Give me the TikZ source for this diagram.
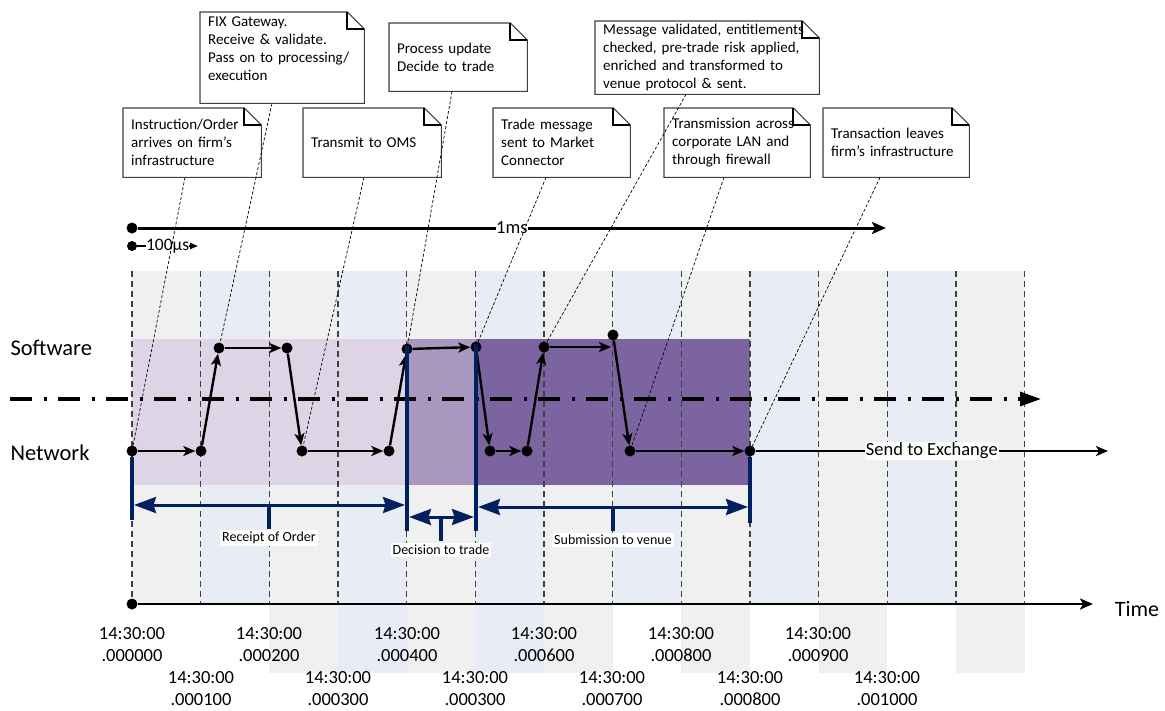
\documentclass[tikz,border=0pt]{standalone}
\usepackage{fontspec}
\setmainfont{Carlito}
\usetikzlibrary{arrows.meta,calc}
\definecolor{stripegray}{HTML}{F0F0F0}
\definecolor{stripeblue}{HTML}{E8ECF4}
\definecolor{purA}{HTML}{DDD5E5}
\definecolor{purB}{HTML}{A898C0}
\definecolor{purC}{HTML}{7C64A0}
\definecolor{navy}{HTML}{002060}
\definecolor{gridc}{HTML}{404040}
\begin{document}
\begin{tikzpicture}[x=1pt,y=-1pt,
  dot/.style={circle,fill=black,inner sep=0pt,minimum size=11pt},
  flow/.style={line width=2.4pt,-{Stealth[length=12pt,width=10pt,inset=3pt]}},
  gridline/.style={gridc,line width=1.2pt,dash pattern=on 6pt off 4pt},
  dashdot/.style={line width=3.2pt,dash pattern=on 22pt off 12pt on 2.5pt off 11.5pt,-{Triangle[length=21pt,width=14pt]}},
  leader/.style={black,line width=0.7pt,dash pattern=on 3pt off 2pt},
  note/.style={fill=white,anchor=north west,inner xsep=8pt,inner ysep=0pt,align=left,font=\fontsize{15}{18}\selectfont,text=black},
  noteline/.style={draw=gridc,line width=1.1pt},
  foldline/.style={draw=black,line width=2pt},
  navybar/.style={navy,line width=4.2pt},
  dim/.style={navy,line width=3pt,{Stealth[length=22pt,width=16pt,inset=2.5pt]}-{Stealth[length=22pt,width=16pt,inset=2.5pt]}},
  dimtick/.style={navy,line width=4pt},
  dimlabel/.style={fill=white,inner sep=2pt,font=\fontsize{14}{16}\selectfont,text=black},
  timelabel/.style={align=center,inner sep=0.5pt,font=\fontsize{18.5}{22}\selectfont,text=black},
  lanelabel/.style={anchor=west,font=\fontsize{22.5}{26}\selectfont,text=black},
  bigline/.style={line width=3pt,-{Stealth[length=14pt,width=12pt,inset=3pt]}}
]
\useasboundingbox (0,0) rectangle (1165,710);
% background stripes
\foreach \i/\c/\b in {0/stripegray/604,1/stripeblue/604,2/stripegray/673,3/stripeblue/673,4/stripegray/673,5/stripeblue/673,6/stripegray/673,7/stripeblue/604,8/stripegray/673,9/stripeblue/604,10/stripegray/673,11/stripeblue/604,12/stripegray/673}
  \fill[\c] ({132+68.67*\i},271) rectangle ({132+68.67*(\i+1)},\b);
% purple phases
\fill[purA] (132,339) rectangle (407,485);
\fill[purB] (407,339) rectangle (476,485);
\fill[purC] (476,339) rectangle (750,485);
% grid lines
\foreach \i in {0,...,13}
  \draw[gridline] ({132+68.67*\i},271) -- ({132+68.67*\i},604);
% lane separator
\coordinate (dl) at (10,399);
\coordinate (dr) at (1041,399);
\draw[dashdot] (dl) -- (dr);
\node[lanelabel] (sw) at (7,348) {Software};
\node[lanelabel] (nw) at (7,453) {Network};
% scale lines
\node[dot] (m0) at (132,228) {};
\coordinate (m1) at (886,228);
\draw[bigline] (m0) -- (m1) node[midway,fill=white,inner sep=0.5pt,font=\fontsize{18.5}{20}\selectfont] (ms) {1ms};
\node[dot,minimum size=10pt] (u0) at (132,246) {};
\coordinate (u1) at (198,246);
\draw[line width=1.6pt,-{Triangle[length=8pt,width=6pt]}] (u0) -- (u1) node[midway,fill=white,inner sep=0.3pt,font=\fontsize{17.5}{19}\selectfont] (us) {100µs};
% flow dots
\node[dot] (N1) at (132,451) {};
\node[dot] (N2) at (201,451) {};
\node[dot] (S1) at (219,348) {};
\node[dot] (S2) at (287,348) {};
\node[dot] (N3) at (302,451) {};
\node[dot] (N4) at (389,451) {};
\node[dot] (S3) at (407,349) {};
\node[dot] (S4) at (476,347) {};
\node[dot] (N5) at (490,451) {};
\node[dot] (N6) at (527,451) {};
\node[dot] (S5) at (544,347) {};
\coordinate (S5e) at (611,347);
\node[dot] (S6) at (613,335) {};
\node[dot] (N7) at (630,451) {};
\node[dot] (N8) at (750,451) {};
\coordinate (X1) at (1108,451);
\draw[flow] (N1) -- (N2);
\draw[flow] (N2) -- (S1);
\draw[flow] (S1) -- (S2);
\draw[flow] (S2) -- (N3);
\draw[flow] (N3) -- (N4);
\draw[flow] (N4) -- (S3);
\draw[flow] (S3) -- (S4);
\draw[flow] (S4) -- (N5);
\draw[flow] (N5) -- (N6);
\draw[flow] (N6) -- (S5);
\draw[flow] (S5) -- (S5e);
\draw[flow] (S6) -- (N7);
\draw[flow] (N7) -- (N8);
\draw[flow] (N8) -- (X1) node[midway,fill=white,inner sep=1pt,font=\fontsize{18.5}{20}\selectfont,text=black] (sx) {Send to Exchange};
% navy bars
\coordinate (b1t) at (132,457); \coordinate (b1b) at (132,520);
\coordinate (b2t) at (407,346); \coordinate (b2b) at (407,531);
\coordinate (b3t) at (476,344); \coordinate (b3b) at (476,531);
\coordinate (b4t) at (750,457); \coordinate (b4b) at (750,523);
\draw[navybar] (b1t) -- (b1b);
\draw[navybar] (b2t) -- (b2b);
\draw[navybar] (b3t) -- (b3b);
\draw[navybar] (b4t) -- (b4b);
% dimension arrows
\coordinate (r1) at (134,505); \coordinate (r2) at (405,505);
\coordinate (d1) at (409,517); \coordinate (d2) at (474,517);
\coordinate (v1) at (478,507); \coordinate (v2) at (748,507);
\draw[dim] (r1) -- (r2);
\draw[dim] (d1) -- (d2);
\draw[dim] (v1) -- (v2);
\coordinate (rt1) at (269,505); \coordinate (rt2) at (269,529);
\coordinate (dt1) at (441,517); \coordinate (dt2) at (441,541);
\coordinate (vt1) at (613,507); \coordinate (vt2) at (613,531);
\draw[dimtick] (rt1) -- (rt2);
\draw[dimtick] (dt1) -- (dt2);
\draw[dimtick] (vt1) -- (vt2);
\node[dimlabel] (rl) at (269,538) {Receipt of Order};
\node[dimlabel] (dl2) at (441,550) {Decision to trade};
\node[dimlabel] (vl) at (613,540) {Submission to venue};
% time axis
\node[dot] (t0) at (132,604) {};
\coordinate (t1) at (1093,604);
\draw[line width=2.6pt,-{Stealth[length=13pt,width=11pt,inset=3pt]}] (t0) -- (t1);
\node[font=\fontsize{22}{24}\selectfont,text=black] (time) at (1137,609) {Time};
% time labels
\node[timelabel] (l0) at (132,645) {14:30:00\\.000000};
\node[timelabel] (l1) at (201,688.5) {14:30:00\\.000100};
\node[timelabel] (l2) at (269,645) {14:30:00\\.000200};
\node[timelabel] (l3) at (338,688.5) {14:30:00\\.000300};
\node[timelabel] (l4) at (407,645) {14:30:00\\.000400};
\node[timelabel] (l5) at (475,688.5) {14:30:00\\.000300};
\node[timelabel] (l6) at (544,645) {14:30:00\\.000600};
\node[timelabel] (l7) at (612,688.5) {14:30:00\\.000700};
\node[timelabel] (l8) at (681,645) {14:30:00\\.000800};
\node[timelabel] (l9) at (750,688.5) {14:30:00\\.000800};
\node[timelabel] (l10) at (818,645) {14:30:00\\.000900};
\node[timelabel] (l11) at (887,688.5) {14:30:00\\.001000};
% notes
\node[note,text width=122pt,minimum height=69pt] (n1) at (123,108) {Instruction/Order\\arrives on firm’s\\infrastructure};
\node[note,text width=148pt,minimum height=91pt] (n2) at (200,12) {FIX Gateway.\\Receive \& validate.\\Pass on to processing/\\execution\\\mbox{}};
\node[note,text width=122pt,minimum height=69pt] (n3) at (303,108) {Transmit to OMS};
\node[note,text width=122pt,minimum height=68pt] (n4) at (389,23) {Process update\\Decide to trade};
\node[note,text width=121pt,minimum height=69pt] (n5) at (493,108) {Trade message\\sent to Market\\Connector};
\node[note,text width=208pt,minimum height=73pt] (n6) at (595,21) {Message validated, entitlements\\checked, pre-trade risk applied,\\enriched and transformed to\\venue protocol \& sent.};
\node[note,text width=130pt,minimum height=69pt] (n7) at (664,108) {Transmission across\\corporate LAN and\\through firewall};
\node[note,text width=130pt,minimum height=69pt] (n8) at (823,108) {Transaction leaves\\firm’s infrastructure};
\foreach \n in {n1,n2,n3,n4,n5,n6,n7,n8}{
  \draw[noteline] (\n.north west) -- ([xshift=-17pt]\n.north east) -- ([yshift=-17pt]\n.north east) -- (\n.south east) -- (\n.south west) -- cycle;
  \draw[foldline] ([xshift=-17pt]\n.north east) -- ([xshift=-17pt,yshift=-17pt]\n.north east) -- ([yshift=-17pt]\n.north east);
}
% leaders
\draw[leader] ([xshift=62pt]n1.south west) -- (N1.center);
\draw[leader] ([xshift=72pt]n2.south west) -- (S1.center);
\draw[leader] ([xshift=61pt]n3.south west) -- (N3.center);
\draw[leader] ([xshift=63pt]n4.south west) -- (S3.center);
\draw[leader] ([xshift=53pt]n5.south west) -- (S4.center);
\draw[leader] ([xshift=91pt]n6.south west) -- (S5.center);
\draw[leader] ([xshift=60pt]n7.south west) -- (N7.center);
\draw[leader] ([xshift=57pt]n8.south west) -- (N8.center);
\end{tikzpicture}
\end{document}
